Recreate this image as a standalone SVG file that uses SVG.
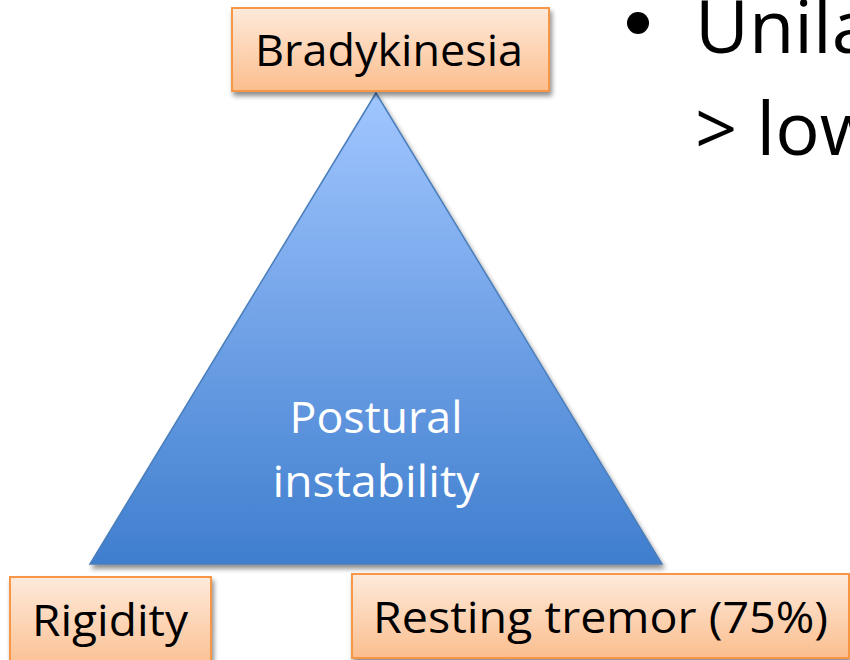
<svg xmlns="http://www.w3.org/2000/svg" width="850" height="660" viewBox="0 0 850 660">
<defs>
<linearGradient id="og" x1="0" y1="0" x2="0" y2="1">
<stop offset="0" stop-color="#FEEADB"/>
<stop offset="1" stop-color="#FBBE8E"/>
</linearGradient>
<linearGradient id="bg" x1="0" y1="0" x2="0" y2="1">
<stop offset="0" stop-color="#A1C6FF"/>
<stop offset="1" stop-color="#3F7ECE"/>
</linearGradient>
<filter id="sh" x="-10%" y="-10%" width="130%" height="130%">
<feGaussianBlur in="SourceAlpha" stdDeviation="2.5"/>
<feOffset dx="2" dy="4" result="b"/>
<feComponentTransfer><feFuncA type="linear" slope="0.45"/></feComponentTransfer>
<feMerge><feMergeNode/><feMergeNode in="SourceGraphic"/></feMerge>
</filter>
<style>
.box{fill:url(#og);stroke:#F79646;stroke-width:2;filter:url(#sh)}
.lbl{font-family:"Open Sans","Liberation Sans",sans-serif;font-size:44px;fill:#000}
.wl{font-family:"Open Sans","Liberation Sans",sans-serif;font-size:44px;fill:#fff;text-anchor:middle}
.big{font-family:"Open Sans","Liberation Sans",sans-serif;font-size:74px;fill:#000}
</style>
</defs>
<rect width="850" height="660" fill="#fff"/>
<g id="triangle">
<polygon points="376,93 90,564 662,564" fill="url(#bg)" stroke="#4A7EBB" stroke-width="1.5" filter="url(#sh)"/>
<text class="wl" x="376" y="433" textLength="173" lengthAdjust="spacingAndGlyphs">Postural</text>
<text class="wl" x="376" y="497" textLength="207" lengthAdjust="spacingAndGlyphs">instability</text>
</g>
<g id="bradykinesia">
<rect class="box" x="232" y="8" width="317" height="83"/>
<text class="lbl" x="255" y="66" textLength="268" lengthAdjust="spacingAndGlyphs">Bradykinesia</text>
</g>
<g id="rigidity">
<rect class="box" x="10" y="577" width="201" height="95"/>
<text class="lbl" x="32" y="636" textLength="156" lengthAdjust="spacingAndGlyphs">Rigidity</text>
</g>
<g id="tremor">
<rect class="box" x="352" y="574" width="497" height="84"/>
<text class="lbl" x="373" y="633" textLength="455" lengthAdjust="spacingAndGlyphs">Resting tremor (75%)</text>
</g>
<g id="connectors"/>
<g id="bullet-text">
<circle cx="638" cy="23" r="11" fill="#000"/>
<text class="big" x="695" y="53">Unila</text>
<text class="big" x="695" y="155">&gt; low</text>
</g>
</svg>
